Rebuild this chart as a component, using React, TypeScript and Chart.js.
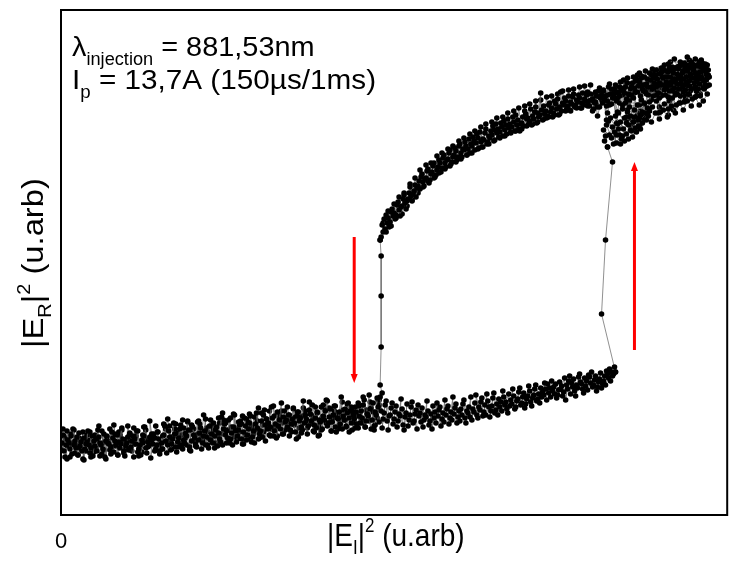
import React, { useEffect, useRef } from "react";
import { Chart, registerables } from "chart.js";

Chart.register(...registerables);

// ---- axis ranges (arbitrary units) ----
const X_MIN = 0;
const X_MAX = 668;
const Y_MIN = 0;
const Y_MAX = 505;

const xTickValues = [0];
const xTickLabels = ["0"];

// ---- annotation texts ----
const line1 = [
  { t: "\u03bb" },
  { t: "injection", sub: true },
  { t: " = 881,53nm" },
];
const line2 = [
  { t: "I" },
  { t: "p", sub: true },
  { t: " = 13,7A (150\u00b5s/1ms)" },
];
const xTitle = [{ t: "|E" }, { t: "I", sub: true }, { t: "|" }, { t: "2", sup: true }, { t: " (u.arb)" }];
const yTitle = [{ t: "|E" }, { t: "R", sub: true }, { t: "|" }, { t: "2", sup: true }, { t: " (u.arb)" }];

// ---- red arrows: [x, yFrom, yTo] (head at yTo) ----
const arrowDown = [294, 278, 132];
const arrowUp = [575, 165, 353];

// ---- lower branch, increasing injection ----
const lowerBranch: [number, number][] = [
  [1,72],[3,64],[2,80],[5,70],[4,58],[7,75],[6,84],[9,66],[8,72],[11,61],[10,79],[13,70],[12,86],[15,67],[14,74],[17,60],[16,78],[19,69],[18,82],[21,64],[20,73],[23,77],[22,56],[25,71],[24,66],[27,84],[26,73],[29,62],[28,70],[31,79],[30,67],[33,74],[32,59],[35,76],[34,69],[37,85],[36,64],[39,72],[38,78],[41,61],[40,70],[43,81],[42,66],[45,74],[44,58],[47,72],[46,79],[49,65],[48,71],[51,83],[50,68],[53,63],[52,77],[55,70],[54,74],[57,60],[56,80],[59,67],[58,73],[61,87],[60,71],[63,64],[62,76],[65,69],[64,59],[67,78],[66,72],[69,82],[68,65],[71,74],[70,68],[73,58],[72,79],[75,71],[74,76],[77,63],[76,84],[79,70],[78,66],[81,75],[80,60],[83,79],[82,72],[85,67],[84,88],[87,73],[86,62],[89,78],[88,69],[91,75],[90,57],[93,81],[92,71],[95,66],[94,77],[97,83],[96,70],[99,64],[98,76],[101,72],
  [103,80],[102,66],[105,74],[104,89],[107,70],[106,62],[109,78],[108,84],[111,71],[110,65],[113,92],[112,76],[115,68],[114,81],[117,73],[116,63],[119,86],[118,77],[121,70],[120,90],[123,75],[122,66],[125,82],[124,72],[127,94],[126,79],[129,68],[128,85],[131,74],[130,64],[133,80],[132,88],[135,71],[134,77],[137,93],[136,68],[139,82],[138,75],[141,66],[140,87],[143,79],[142,72],[145,96],[144,84],[147,70],[146,78],[149,89],[148,67],[151,81],[150,75],[153,92],[152,72],[155,85],[154,79],[157,69],[156,88],[159,76],[158,82],[161,98],[160,73],[163,86],[162,70],[165,80],[164,91],[167,77],[166,84],[169,72],[168,95],[171,82],[170,76],[173,88],[172,70],[175,84],[174,100],[177,79],[176,73],[179,90],[178,85],[181,76],[180,94],[183,83],[182,71],[185,89],[184,97],[187,80],[186,75],[189,92],[188,86],[191,73],[190,99],[193,84],[192,78],[195,91],[194,72],[197,87],[196,102],[199,81],[198,76],
  [201,94],[200,84],[203,100],[202,78],[205,90],[204,105],[207,86],[206,96],[209,80],[208,92],[211,108],[210,88],[213,79],[212,97],[215,91],[214,84],[217,103],[216,77],[219,95],[218,89],[221,112],[220,86],[223,98],[222,81],[225,93],[224,104],[227,88],[226,95],[229,79],[228,100],[231,91],[230,85],[233,107],[232,96],[235,83],[234,92],[237,99],[236,76],[239,94],[238,103],[241,88],[240,97],[243,114],[242,85],[245,100],[244,92],[247,81],[246,96],[249,105],[248,89],[251,94],[250,101],[253,84],[252,110],[255,97],[254,90],[257,103],[256,87],[259,95],[258,79],[261,108],[260,93],[263,99],[262,86],[265,104],[264,95],[267,89],[266,115],[269,98],[268,92],[271,84],[270,106],[273,100],[272,93],[275,88],[274,109],[277,97],[276,83],[279,103],[278,96],[281,118],[280,91],[283,99],[282,86],[285,106],[284,95],[287,102],[286,89],[289,97],[288,112],[291,92],[290,104],[293,100],[292,85],[295,108],[294,96],[297,91],[296,103],[299,99],[298,87],
  [301,104],[300,92],[303,110],[302,97],[305,88],[304,115],[307,101],[306,94],[309,120],[308,99],[311,86],[310,106],[313,112],[312,95],[315,103],[314,89],[317,117],[316,100],[319,93],[318,108],[321,104],[320,118],[323,96],[322,87],[325,110],[324,102],[327,94],[326,114],[329,99],[328,85],[331,107],[330,100],[333,91],[332,112],[335,103],[334,96],[337,88],[336,109],[339,101],[338,94],[341,116],[340,99],[343,90],[342,106],[345,98],[344,85],[347,111],[346,102],[349,95],[348,89],[351,108],[350,100],[353,92],[352,113],[355,101],[354,94],[357,86],[356,105],[359,99],[358,110],[361,93],[360,102],[363,88],[362,107],[365,100],[364,95],[367,114],[366,98],[369,90],[368,104],[371,101],[370,94],[373,109],[372,86],[375,103],[374,97],[377,112],[376,92],[379,105],[378,99],[381,89],[380,108],[383,102],[382,96],[385,115],[384,93],[387,106],[386,100],[389,91],[388,109],[391,103],[390,97],[393,118],[392,95],[395,107],[394,101],[397,92],[396,111],[399,104],[398,98],
  [401,106],[400,94],[403,111],[402,100],[405,97],[404,115],[407,104],[406,92],[409,108],[408,102],[411,118],[410,98],[413,106],[412,95],[415,112],[414,103],[417,100],[416,120],[419,108],[418,97],[421,113],[420,105],[423,99],[422,117],[425,110],[424,103],[427,121],[426,100],[429,108],[428,114],[431,104],[430,98],[433,117],[432,109],[435,102],[434,122],[437,111],[436,105],[439,116],[438,100],[441,113],[440,108],[443,124],[442,104],[445,110],[444,118],[447,106],[446,113],[449,121],[448,102],[451,115],[450,109],[453,126],[452,111],[455,106],[454,119],[457,114],[456,108],[459,123],[458,116],[461,110],[460,127],[463,118],[462,112],[465,107],[464,122],[467,116],[466,111],[469,129],[468,119],[471,113],[470,124],[473,117],[472,109],[475,126],[474,120],[477,114],[476,130],[479,121],[478,116],[481,127],[480,112],[483,123],[482,118],[485,132],[484,120],[487,115],[486,126],[489,122],[488,131],[491,118],[490,127],[493,124],[492,134],[495,121],[494,128],[497,117],[496,131],[499,125],[498,120],
  [501,126],[500,133],[503,119],[502,129],[505,137],[504,123],[507,130],[506,115],[509,134],[508,126],[511,121],[510,139],[513,128],[512,132],[515,124],[514,136],[517,130],[516,119],[519,138],[518,127],[521,133],[520,141],[523,126],[522,131],[525,137],[524,122],[527,134],[526,129],[529,140],[528,125],[531,132],[530,138],[533,128],[532,143],[535,135],[534,130],[537,124],[536,139],[539,133],[538,128],[541,142],[540,136],[543,131],[542,127],[545,139],[544,134],[547,144],[546,130],[549,137],[548,141],[551,134],[550,146],[553,139],[552,143],[555,148],[554,141],[556,143]
];

// ---- jump up (right switching point) ----
const jumpUp: [number, number][] = [
  [556,143],[542,201],[546,275],[553,353],[548,368]
];

// ---- lower lobe of the upper state near the switching point ----
const upperLobe: [number, number][] = [
  [548,368],[545,374],[550,380],[544,385],[552,377],[547,390],[555,383],[549,394],[557,372],[553,388],[560,380],[546,379],[558,391],[562,376],[551,397],[564,386],[556,399],[567,381],[561,393],[569,390],[559,402],[572,384],[565,397],[574,393],[568,403],[576,387],[571,399],[579,395],[563,406],[581,400],[575,405],[583,392],[578,410],[586,402],[570,408],[588,407],[580,397],[585,412],[566,412],[590,404],
  [554,371],[559,386],[563,379],[567,392],[571,385],[575,398],[579,389],[583,403],[573,378],[577,383],[569,376],[561,371],[557,380],[565,374],[581,386],[587,395]
];

// ---- dense cluster at high injection (going up) ----
const upperCluster: [number, number][] = [
  [530,409],[533,416],[531,421],[535,412],[534,406],[537,419],[536,413],[539,424],[538,408],[541,417],[540,427],[543,412],[542,420],[545,415],[544,425],[547,409],[546,419],[549,428],[548,414],[551,421],[550,431],[553,417],[552,411],[555,426],[554,420],[557,414],[556,430],[559,423],[558,417],[561,433],[560,419],[563,410],[562,427],[565,422],[564,435],[567,416],[566,428],[569,421],[568,437],[571,426],[570,414],[573,432],[572,420],[575,427],[574,417],[577,436],[576,423],[579,429],[578,440],[581,419],[580,433],[583,426],[582,415],[585,438],[584,424],[587,431],[586,444],[589,420],[588,428],[591,435],[590,413],[593,426],[592,440],[595,432],[594,419],[597,445],[596,428],[599,422],[598,436],[601,441],[600,417],[603,430],[602,447],[605,425],[604,437],[607,433],[606,420],[609,443],[608,429],[611,438],[610,424],[613,448],[612,433],[615,427],[614,442],[617,436],[616,422],[619,446],[618,431],[621,439],[620,426],[623,450],[622,435],[625,430],[624,444],[627,438],[626,425],[629,448],[628,433],[631,441],[630,429],[633,451],[632,437],[635,432],[634,445],[637,440],[636,428],[639,449],[638,435],[641,443],[640,431],[643,452],[642,438],[645,434],[644,446],[647,441],[646,430],[649,445],[648,437],[647,449],[644,427],[640,453],[636,442],[632,426],[628,444],[624,436],[620,449],[616,433],[612,445],[608,438],[604,446],[600,432],[596,440],[592,428],[588,436],[584,430],[580,442],[576,434],[572,428],[568,432],[564,424],[560,428],[556,422],[552,426],[548,420],[544,424],[540,418],[536,423],[532,415],
  [574,438],[578,423],[582,437],[586,423],[590,442],[594,437],[598,429],[602,443],[606,428],[610,447],[614,436],[618,441],[622,431],[626,447],[630,434],[634,449],[638,439],[642,448],[646,444],[643,436],[639,442],[635,437],[631,447],[627,432],[623,442],[619,437],[615,446],[611,430],[607,444],[603,438],[609,451],[615,456],[618,448],[625,452],[628,458],[632,453],[636,456],[642,455],[637,450]
];

// ---- cluster, lower part ----
const clusterLow: [number, number][] = [
  [581,404],[585,411],[589,399],[593,408],[597,414],[601,403],[605,411],[609,406],[613,417],[617,410],[621,419],[625,413],[629,421],[633,416],[637,424],[641,419],[645,426],[648,421],[644,414],[640,410],[636,418],[632,409],[628,414],[624,405],[620,412],[616,402],[612,409],[608,398],[604,405],[600,396],[596,402],[592,393],[588,401],[584,395],[580,389],[576,394],[572,390],[568,396]
];

// ---- cluster core ----
const clusterCore: [number, number][] = [
  [591,425],[594,431],[597,420],[600,427],[603,434],[606,441],[609,418],[612,425],[615,432],[618,421],[621,428],[624,423],[627,429],[630,420],[633,427],[636,434],[639,426],[642,431],[645,439],[648,429],[650,438],[647,435],[643,442],[640,437],[637,446],[634,440],[631,435],[628,450],[625,440],[622,446],[619,426],[616,439],[613,424],[610,435],[607,427],[604,433],[601,421],[598,441],[595,425],[592,434],[589,426],[593,446],[605,450],[611,453],[621,453],[630,455],[646,451],[650,430],[638,420],[626,419]
];

// ---- dense cluster, returning (decreasing injection) ----
const clusterReturn: [number, number][] = [
  [649,440],[646,428],[648,450],[644,433],[641,421],[643,446],[639,437],[636,418],[638,444],[634,429],[631,424],[633,451],[629,435],[626,415],[628,441],[624,426],[621,412],[623,447],[619,431],[616,420],
  [617,438],[614,405],[612,428],[615,447],[610,414],[607,440],[609,400],[605,432],[602,419],[604,445],[600,408],[597,426],[599,402],[595,437],[592,415],[594,443],[590,404],[587,421],[589,434],[585,398],
  [583,430],[580,410],[582,439],[578,400],[575,422],[577,435],[573,395],[570,418],[572,428],[568,405],[565,433],[567,398],[563,420],[560,412],[562,426],[558,403],[555,417],[557,392],[553,424],[550,410],
  [548,402],[545,418],[547,395],[543,424],[540,408],[542,415],[538,399],[535,420],[537,410],[533,404],[530,414]
];

// ---- upper branch, decreasing injection ----
const upperBranch: [number, number][] = [
  [530,414],[528,423],[529,411],[526,414],[527,420],[524,410],[525,416],[522,412],[523,422],[520,417],[521,407],[518,413],[519,420],[516,410],[517,415],[514,421],[515,408],[512,411],[513,418],[510,405],[511,413],[508,409],[509,419],[506,414],[507,406],[504,410],[505,417],[502,404],[503,412],[500,408],[501,423],[498,416],[499,400],[496,411],[497,406],[494,402],[495,414],[492,407],[493,398],[490,412],[491,403],[488,399],[489,410],[486,404],[487,397],[484,409],[485,401],[482,405],[483,395],[480,400],[481,422],[478,402],[479,398],[476,408],[477,392],[474,396],[475,403],[472,390],[473,399],[470,394],[471,406],[468,397],[469,391],[466,401],[467,396],[464,389],[465,404],[462,392],[463,398],[460,384],[461,391],[458,395],[459,386],[456,400],[457,390],[454,393],[455,384],[452,388],[453,398],[450,391],[451,383],[448,396],[449,387],[446,390],[447,381],[444,394],[445,385],[442,388],[443,379],[440,383],[441,392],[438,386],[439,378],[436,391],[437,382],[434,385],[435,375],[432,380],[433,389],[430,377],[431,384],[428,373],[429,379],[426,386],[427,371],[424,375],[425,382],[422,368],[423,376],[420,383],[421,373],[418,377],[419,367],[416,372],[417,381],[414,374],[415,365],[412,369],[413,378],[410,362],[411,371],[408,366],[409,376],[406,369],[407,360],[404,365],[405,373],[402,358],[403,366],[400,371],[401,362],
  [398,358],[399,369],[396,364],[397,355],[394,360],[395,367],[392,353],[393,358],[390,365],[391,351],[388,356],[389,362],[386,348],[387,355],[384,360],[385,352],[382,347],[383,357],[380,352],[381,343],[378,348],[379,355],[376,340],[377,345],[374,352],[375,338],[372,343],[373,349],[370,335],[371,341],[368,346],[369,332],[366,337],[367,344],[364,329],[365,336],[362,341],[363,333],[360,326],[361,338],[358,329],[359,334],[356,318],[357,327],[354,324],[355,330],[352,314],[353,321],[350,328],[351,319],[348,316],[349,322],[346,306],[347,314],[344,320],[345,312],[342,309],[343,316],[340,299],[341,308],[338,313],[339,305],[336,300],[337,310],[334,302],[335,296],[332,306],[333,299],[330,293],[331,303],[328,297],[329,288],[326,300],[327,292],[324,296],[325,286],[322,290],[323,283],[321,278],[320,275]
];

// ---- extra scatter along the upper branch ----
const upperExtra: [number, number][] = [
  [323,292],[326,283],[328,304],[331,289],[334,311],[336,297],[339,318],[342,301],[344,322],[347,309],[350,331],[352,315],[355,337],[358,322],[360,345],[363,328],[366,350],[368,334],[371,352],[374,337],[377,359],[379,342],[382,362],[385,346],[388,366],[390,349],[393,369],[396,353],[399,374],[401,356],[404,377],[407,360],[410,381],[412,362],[415,384],[418,366],[421,388],[423,368],[426,391],[429,371],[432,393],[434,374],[437,397],[440,377],[443,398],[445,379],[448,402],[451,382],[454,404],[456,384],[459,407],[462,386],[465,409],[467,389],[470,411],[473,391],[476,414],[478,393],[481,415],[484,396],[487,418],[489,398],[492,419],[495,400],[498,421],[500,401],[503,424],[506,404],[509,425],[511,404],[514,426],[517,407],[520,428],[522,407],[525,429],[528,409],[531,430]
];

// ---- jump down (left switching point) ----
const jumpDown: [number, number][] = [
  [320,275],[321,259],[321,219],[321,168],[320,130],[322,122],[319,115]
];

// ---- lower branch, returning (decreasing injection) ----
const lowerReturn: [number, number][] = [
  [319,110],[317,97],[318,115],[315,90],[313,103],[314,85],[311,107],[309,94],[310,113],[307,101],[305,88],[306,105],[303,118],[301,96],[302,92],[299,109],[297,99],[298,112],[295,87],[293,104],
  [294,92],[291,108],[289,83],[290,103],[287,111],[285,95],[286,88],[283,105],[281,98],[282,113],[279,90],[277,100],[278,86],[275,109],[273,97],[274,104],[271,84],[269,107],[270,93],[267,114],
  [265,105],[266,92],[263,110],[261,85],[262,98],[259,80],[257,102],[258,89],[255,108],[253,96],[254,83],[251,100],[249,113],[250,91],[247,87],[245,104],[246,94],[243,107],[241,82],[242,99],
  [239,87],[237,103],[238,78],[235,98],[233,106],[234,90],[231,83],[229,100],[230,93],[227,108],[225,85],[226,95],[223,81],[221,104],[222,92],[219,99],[217,79],[218,102],[215,88],[213,109],
  [214,99],[211,86],[209,104],[210,79],[207,92],[205,74],[206,96],[203,83],[201,102],[202,90],[199,77],[197,94],[198,107],[195,85],[193,81],[194,98],[191,88],[189,101],[190,76],[187,93],
  [185,80],[186,96],[183,71],[181,91],[182,99],[179,83],[177,76],[178,93],[175,86],[173,101],[174,78],[171,88],[169,74],[170,97],[167,85],[165,92],[166,72],[163,95],[161,81],[162,102],
  [159,92],[157,79],[158,97],[155,72],[153,85],[154,67],[151,89],[149,76],[150,95],[147,83],[145,70],[146,87],[143,100],[141,78],[142,74],[139,91],[137,81],[138,94],[135,69],[133,86],
  [134,74],[131,90],[129,65],[130,85],[127,93],[125,77],[126,70],[123,87],[121,80],[122,95],[119,72],[117,82],[118,68],[115,91],[113,79],[114,86],[111,66],[109,89],[110,75],[107,96],
  [105,86],[106,73],[103,91],[101,66],[102,79],[99,61],[97,83],[98,70],[95,89],[93,77],[94,64],[91,81],[89,94],[90,72],[87,68],[85,85],[86,75],[83,88],[81,63],[82,80],
  [79,68],[77,84],[78,59],[75,79],[73,87],[74,71],[71,64],[69,81],[70,74],[67,89],[65,66],[66,76],[63,62],[61,85],[62,73],[59,80],[57,60],[58,83],[55,69],[53,90],
  [54,81],[51,68],[49,86],[50,61],[47,74],[45,56],[46,78],[43,65],[41,84],[42,72],[39,59],[37,76],[38,89],[35,67],[33,63],[34,80],[31,70],[29,83],[30,58],[27,75],
  [25,64],[26,80],[23,55],[21,75],[22,83],[19,67],[17,60],[18,77],[15,70],[13,85],[14,62],[11,72],[9,58],[10,81],[7,69],[5,76],[6,56],[3,79],[1,65],[2,86]
];

const FONT = "'Liberation Sans', Arial, Helvetica, sans-serif";

function toPts(arr: [number, number][]) {
  return arr.map(([x, y]) => ({ x, y }));
}

type Seg = { t: string; sub?: boolean; sup?: boolean };

// draws a run of text with sub/superscripts at (x, y) baseline, scaled by sx, sy
function drawRich(
  ctx: CanvasRenderingContext2D,
  segs: Seg[],
  x: number,
  y: number,
  size: number,
  small: number,
  subDy: number,
  supDy: number,
  sx: number,
  sy: number
) {
  ctx.save();
  ctx.translate(x, y);
  ctx.scale(sx, sy);
  let cx = 0;
  for (const s of segs) {
    const sz = s.sub || s.sup ? small : size;
    ctx.font = `${sz}px ${FONT}`;
    const dy = s.sub ? subDy : s.sup ? -supDy : 0;
    ctx.fillText(s.t, cx, dy);
    cx += ctx.measureText(s.t).width;
  }
  ctx.restore();
}

const decorPlugin = {
  id: "decor",
  afterDraw(chart: any) {
    const { ctx, chartArea, scales } = chart;
    const xs = scales.x;
    const ys = scales.y;
    ctx.save();
    // frame
    ctx.strokeStyle = "#000";
    ctx.lineWidth = 2;
    ctx.strokeRect(chartArea.left, chartArea.top, chartArea.right - chartArea.left, chartArea.bottom - chartArea.top);

    // tick label
    ctx.fillStyle = "#000";
    ctx.textBaseline = "alphabetic";
    ctx.textAlign = "center";
    ctx.font = `22px ${FONT}`;
    xTickValues.forEach((v, i) => {
      ctx.fillText(xTickLabels[i], xs.getPixelForValue(v), chartArea.bottom + 33);
    });
    ctx.textAlign = "left";

    // arrows
    const drawArrow = (a: number[]) => {
      const px = xs.getPixelForValue(a[0]);
      const y0 = ys.getPixelForValue(a[1]);
      const y1 = ys.getPixelForValue(a[2]);
      const dir = y1 > y0 ? 1 : -1;
      ctx.strokeStyle = "#ff0000";
      ctx.fillStyle = "#ff0000";
      ctx.lineWidth = 3;
      ctx.beginPath();
      ctx.moveTo(px, y0);
      ctx.lineTo(px, y1 - dir * 6);
      ctx.stroke();
      ctx.beginPath();
      ctx.moveTo(px, y1);
      ctx.lineTo(px - 3.5, y1 - dir * 9);
      ctx.lineTo(px + 3.5, y1 - dir * 9);
      ctx.closePath();
      ctx.fill();
    };
    drawArrow(arrowDown);
    drawArrow(arrowUp);

    // annotation text
    ctx.fillStyle = "#000";
    drawRich(ctx, line1 as Seg[], 72, 56, 27, 17, 9, 0, 1.07, 1.05);
    drawRich(ctx, line2 as Seg[], 72, 89, 27, 17, 9, 0, 1.1, 1.05);

    // x axis title
    drawRich(ctx, xTitle as Seg[], 327, 546, 28, 17, 7, 12, 1.0, 1.15);

    // y axis title
    ctx.save();
    ctx.translate(43, 348);
    ctx.rotate(-Math.PI / 2);
    drawRich(ctx, yTitle as Seg[], 0, 0, 28, 17, 7, 12, 1.17, 1.08);
    ctx.restore();

    ctx.restore();
  },
};

export default function App() {
  const ref = useRef<HTMLCanvasElement | null>(null);
  useEffect(() => {
    document.body.style.margin = "0";
    const canvas = ref.current!;
    const common = {
      showLine: true,
      borderColor: "#606060",
      borderWidth: 0.7,
      pointRadius: 2.8,
      pointBackgroundColor: "#000",
      pointBorderWidth: 0,
      pointHoverRadius: 2.8,
    };
    const chart = new Chart(canvas, {
      type: "scatter",
      data: {
        datasets: [
          { ...common, label: "lower", data: toPts(lowerBranch) },
          { ...common, label: "jumpUp", data: toPts(jumpUp) },
          { ...common, label: "lobe", data: toPts(upperLobe) },
          { ...common, label: "cluster", data: toPts(upperCluster) },
          { ...common, label: "clusterLow", data: toPts(clusterLow) },
          { ...common, label: "clusterCore", data: toPts(clusterCore) },
          { ...common, label: "clusterReturn", data: toPts(clusterReturn) },
          { ...common, label: "upper", data: toPts(upperBranch) },
          { ...common, label: "upperExtra", data: toPts(upperExtra) },
          { ...common, label: "jumpDown", data: toPts(jumpDown) },
          { ...common, label: "lowerReturn", data: toPts(lowerReturn) },
        ],
      },
      options: {
        animation: false,
        responsive: false,
        devicePixelRatio: 1,
        layout: { padding: { left: 61, top: 10, right: 1, bottom: 52 } },
        plugins: { legend: { display: false }, tooltip: { enabled: false } },
        events: [],
        scales: {
          x: { type: "linear", min: X_MIN, max: X_MAX, display: false },
          y: { type: "linear", min: Y_MIN, max: Y_MAX, display: false },
        },
      },
      plugins: [decorPlugin],
    } as any);
    return () => chart.destroy();
  }, []);
  return <canvas ref={ref} width={730} height={567} style={{ display: "block", width: 730, height: 567 }} />;
}
